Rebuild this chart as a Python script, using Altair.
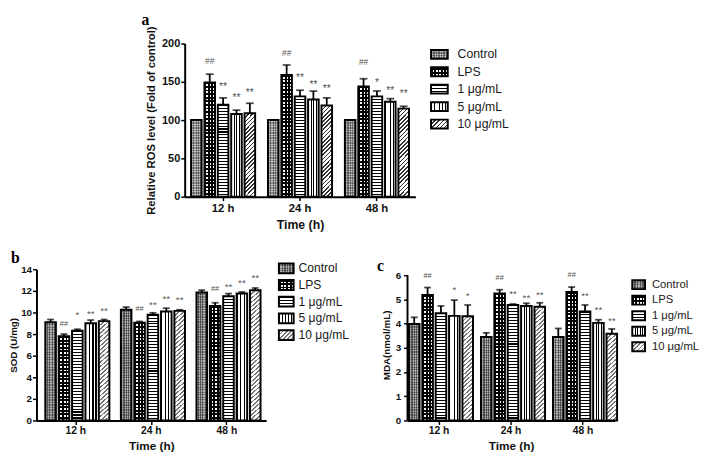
import altair as alt
import pandas as pd

FONT = "Liberation Sans"
SERIF = "Liberation Serif"

cats = ["Control", "LPS", "1 μg/mL", "5 μg/mL", "10 μg/mL"]
times = ["12 h", "24 h", "48 h"]

# (a) Relative ROS level (Fold of control)
ros_12 = [100, 149, 120, 108, 109]
ros_24 = [100, 159, 131, 127, 119]
ros_48 = [100, 144, 131, 124, 115]
ros_err_12 = [0, 11, 9, 5, 13]
ros_err_24 = [0, 13, 8, 11, 10]
ros_err_48 = [0, 10, 7, 4, 3]
ros_sig_12 = ["", "##", "**", "**", "**"]
ros_sig_24 = ["", "##", "**", "**", "**"]
ros_sig_48 = ["", "##", "*", "**", "**"]
ros_sig_pos_12 = [0, 177, 147, 132, 139]
ros_sig_pos_24 = [0, 187, 159, 150, 144]
ros_sig_pos_48 = [0, 176, 152, 142, 137]

# (b) SOD (U/mg)
sod_12 = [9.1, 7.8, 8.3, 9.0, 9.2]
sod_24 = [10.25, 9.05, 9.8, 10.1, 10.15]
sod_48 = [11.85, 10.6, 11.5, 11.75, 12.05]
sod_err_12 = [0.25, 0.2, 0.15, 0.3, 0.15]
sod_err_24 = [0.25, 0.12, 0.17, 0.3, 0.1]
sod_err_48 = [0.22, 0.3, 0.25, 0.15, 0.22]
sod_sig_12 = ["", "##", "*", "**", "**"]
sod_sig_24 = ["", "##", "**", "**", "**"]
sod_sig_48 = ["", "##", "**", "**", "**"]
sod_sig_pos_12 = [0, 8.9, 10.05, 10.1, 10.35]
sod_sig_pos_24 = [0, 10.3, 10.93, 11.48, 11.39]
sod_sig_pos_48 = [0, 12.18, 12.63, 13.0, 13.48]

# (c) MDA (nmol/mL)
mda_12 = [3.98, 5.18, 4.43, 4.32, 4.3]
mda_24 = [3.45, 5.24, 4.77, 4.73, 4.7]
mda_48 = [3.45, 5.31, 4.5, 4.03, 3.58]
mda_err_12 = [0.28, 0.31, 0.3, 0.65, 0.47]
mda_err_24 = [0.17, 0.16, 0.04, 0.11, 0.16]
mda_err_48 = [0.35, 0.2, 0.27, 0.13, 0.2]
mda_sig_12 = ["", "##", "", "*", "*"]
mda_sig_24 = ["", "##", "**", "**", "**"]
mda_sig_48 = ["", "##", "**", "**", "**"]
mda_sig_pos_12 = [0, 5.95, 0, 5.49, 5.24]
mda_sig_pos_24 = [0, 5.88, 5.35, 5.18, 5.27]
mda_sig_pos_48 = [0, 5.99, 5.24, 4.67, 4.23]

CLEAR = "rgba(255,255,255,0)"


def _stops(c1, c2, dt, frac, tmax=1.0):
    stops = []
    i = 0
    while i * dt < tmax and i < 300:
        a = min(i * dt, 1.0)
        b = min((i + frac) * dt, 1.0)
        c = min((i + 1) * dt, 1.0)
        stops += [{"offset": a, "color": c1}, {"offset": b, "color": c1},
                  {"offset": b, "color": c2}, {"offset": c, "color": c2}]
        i += 1
    return stops


def lines(c1, c2, extent, period, frac, vertical):
    n = max(1, round(extent / period))
    return {"gradient": "linear", "x1": 0, "y1": 0,
            "x2": 1 if vertical else 0, "y2": 0 if vertical else 1,
            "stops": _stops(c1, c2, 1.0 / n, frac)}


def diagonal(c1, c2, w, h, period, frac):
    r = h / w
    dt = period * 2 ** 0.5 / (w * (1 + r * r))
    tmax = min(1.0, (w + h) / (w * (1 + r * r)) + dt)
    return {"gradient": "linear", "x1": 0, "y1": 0, "x2": 1, "y2": r,
            "stops": _stops(c1, c2, dt, frac, tmax)}


def fills(cat, w, h, hatch, ctrl):
    if cat == "Control":
        return [lines(ctrl[0], ctrl[1], w, 1.7, 0.5, True),
                lines("rgba(40,40,40,0.4)", CLEAR, h, 1.7, 0.5, False)]
    if cat == "LPS":
        return ["#ffffff",
                lines("#000000", CLEAR, h, 3.6, 0.5, False),
                lines("#000000", CLEAR, w, 3.6, 0.5, True)]
    if cat == "1 μg/mL":
        return [lines("#000000", "#ffffff", h, 3.0, 0.35, False)]
    if cat == "5 μg/mL":
        return [lines("#000000", "#ffffff", w, 2.8, 0.3, True)]
    return [diagonal(hatch, "#ffffff", w, h, 3.0, 0.4)]


def build_df(means, errs, sigs, sig_pos):
    rows = []
    for ti, t in enumerate(times):
        for ci, c in enumerate(cats):
            m = means[ti][ci]
            e = errs[ti][ci]
            rows.append({"time": t, "cat": c, "key": f"{ti}_{ci}", "mean": m, "err": e,
                         "top": m + e, "sig": sigs[ti][ci], "sig_y": sig_pos[ti][ci]})
    return pd.DataFrame(rows)


def panel(df, p):
    W, H = p["w"], p["h"]
    smax = p["ymax"] * H / p["ph"]      # scale top (plot may be taller than the drawn axis)
    custom_domain = H != p["ph"]
    xenc = alt.X("time:N", sort=times,
                 scale=alt.Scale(paddingInner=p["pi"], paddingOuter=p["po"]),
                 axis=alt.Axis(title="Time (h)", labelAngle=0, labelFont=FONT,
                               labelFontSize=p["xlab"], labelFontWeight="bold", labelColor="#111",
                               titleFont=FONT, titleFontSize=p["xtitle"], titleFontWeight="bold",
                               titleColor="#111", domainColor="#000", domainWidth=2,
                               tickColor="#000", tickWidth=1.5, tickSize=4,
                               labelPadding=p["xlabpad"], titlePadding=p["xtitlepad"]))
    xo = alt.XOffset("cat:N", sort=cats, scale=alt.Scale(domain=cats, paddingInner=p["pio"]))
    yscale = alt.Scale(domain=[0, smax], nice=False, zero=True)
    yaxis = alt.Axis(values=p["yticks"], title=p["ytitle"], grid=False, labelFont=FONT,
                     labelFontSize=p["ylab"], labelFontWeight="bold", labelColor="#111",
                     titleFont=FONT, titleFontSize=p["ytitle_fs"], titleFontWeight="bold",
                     titleColor="#111", domain=not custom_domain, domainColor="#000",
                     domainWidth=2, tickColor="#000",
                     tickWidth=1.5, tickSize=4, labelPadding=p["ylabpad"],
                     titlePadding=p["ytitlepad"])

    def Y(field):
        return alt.Y(f"{field}:Q", scale=yscale, axis=yaxis)

    base = alt.Chart(df)
    layers = []
    for _, r in df.iterrows():
        h = r["mean"] / smax * H
        for f in fills(r["cat"], p["bw"], h, p["hatch"], p["ctrl"]):
            layers.append(base.transform_filter(alt.datum.key == r["key"])
                          .mark_bar(fill=f, strokeWidth=0)
                          .encode(x=xenc, xOffset=xo, y=Y("mean")))
    layers.append(base.mark_bar(fillOpacity=0, stroke="#000", strokeWidth=2)
                  .encode(x=xenc, xOffset=xo, y=Y("mean")))
    eb = base.transform_filter(alt.datum.err > 0)
    layers.append(eb.mark_rule(color="#000", strokeWidth=1.8)
                  .encode(x=xenc, xOffset=xo, y=Y("mean"), y2="top:Q"))
    layers.append(eb.mark_tick(color="#000", thickness=1.8, size=p["cap"])
                  .encode(x=xenc, xOffset=xo, y=Y("top")))
    hashes = base.transform_filter(alt.datum.sig == "##")
    stars = base.transform_filter((alt.datum.sig != "##") & (alt.datum.sig != ""))
    layers.append(hashes.mark_text(font=FONT, fontSize=p["hashfs"], color="#555", baseline="middle")
                  .encode(x=xenc, xOffset=xo, y=Y("sig_y"), text="sig:N"))
    layers.append(stars.mark_text(font=FONT, fontSize=p["starfs"], color="#555",
                                  baseline="middle", dy=round(p["starfs"] * 0.27, 1))
                  .encode(x=xenc, xOffset=xo, y=Y("sig_y"), text="sig:N"))
    if custom_domain:
        layers.append(alt.Chart(pd.DataFrame({"v": [0]})).mark_rule(color="#000", strokeWidth=2)
                      .encode(x=alt.value(0), y=alt.Y(datum=0, scale=yscale, axis=yaxis),
                              y2=alt.Y2(datum=p["ymax"])))
    layers.append(alt.Chart(pd.DataFrame({"v": [0]}))
                  .mark_text(text=p["label"], font=SERIF, fontWeight="bold", fontSize=16,
                             align="left", baseline="alphabetic", color="#000")
                  .encode(x=alt.value(p["lx"]), y=alt.value(p["ly"])))
    return alt.layer(*layers).properties(width=W, height=H)


def legend(p):
    H, first, step = p["h"], p["first"], p["step"]
    ldf = pd.DataFrame({"cat": cats, "idx": list(range(len(cats)))})
    half = p["sh"] / 2 / step
    ldf["lo"] = ldf["idx"] - half
    ldf["hi"] = ldf["idx"] + half
    ys = alt.Scale(domain=[-first / step, (H - first) / step], reverse=True, nice=False, zero=False)
    base = alt.Chart(ldf)
    layers = []
    for c in cats:
        for f in fills(c, p["sw"], p["sh"], p["hatch"], p["ctrl"]):
            layers.append(base.transform_filter(alt.datum.cat == c)
                          .mark_rect(fill=f, strokeWidth=0)
                          .encode(x=alt.value(p["sx"]), x2=alt.value(p["sx"] + p["sw"]),
                                  y=alt.Y("lo:Q", scale=ys, axis=None), y2="hi:Q"))
    layers.append(base.mark_rect(fillOpacity=0, stroke="#000", strokeWidth=2)
                  .encode(x=alt.value(p["sx"]), x2=alt.value(p["sx"] + p["sw"]),
                          y=alt.Y("lo:Q", scale=ys, axis=None), y2="hi:Q"))
    layers.append(base.mark_text(align="left", baseline="middle", font=FONT, fontSize=p["fs"],
                                 color="#1a1a1a")
                  .encode(x=alt.value(p["tx"]), y=alt.Y("idx:Q", scale=ys, axis=None),
                          text="cat:N"))
    return alt.layer(*layers).properties(width=p["w"], height=H)


def spacer(w, h):
    return (alt.Chart(pd.DataFrame({"v": [0]})).mark_point(opacity=0, size=1)
            .encode(x=alt.value(0), y=alt.value(0)).properties(width=w, height=h))


df_a = build_df([ros_12, ros_24, ros_48], [ros_err_12, ros_err_24, ros_err_48],
                [ros_sig_12, ros_sig_24, ros_sig_48], [ros_sig_pos_12, ros_sig_pos_24, ros_sig_pos_48])
df_b = build_df([sod_12, sod_24, sod_48], [sod_err_12, sod_err_24, sod_err_48],
                [sod_sig_12, sod_sig_24, sod_sig_48], [sod_sig_pos_12, sod_sig_pos_24, sod_sig_pos_48])
df_c = build_df([mda_12, mda_24, mda_48], [mda_err_12, mda_err_24, mda_err_48],
                [mda_sig_12, mda_sig_24, mda_sig_48], [mda_sig_pos_12, mda_sig_pos_24, mda_sig_pos_48])

CTRL_A = ("#7c7c7c", "#cfcfcf")
CTRL_BC = ("#5e5e5e", "#b8b8b8")

pa = dict(w=235, h=156, ph=156, ymax=200, yticks=[0, 50, 100, 150, 200],
          ytitle="Relative ROS level (Fold of control)", pi=0.167, po=0.083, pio=0.21, bw=11,
          hatch="#333333", ctrl=CTRL_A, cap=8, hashfs=8.5, starfs=10.5, ylab=11.2, ytitle_fs=11.5,
          ylabpad=1, ytitlepad=5, xlab=11.5, xtitle=12.5, xlabpad=2, xtitlepad=5,
          label="a", lx=-44, ly=-19)
pb = dict(w=234, h=154, ph=154, ymax=14, yticks=list(range(0, 15, 2)), ytitle="SOD (U/mg)",
          pi=0.195, po=0.117, pio=0.26, bw=9.5, hatch="#777777", ctrl=CTRL_BC, cap=7, hashfs=7.5,
          starfs=10, ylab=10, ytitle_fs=10, ylabpad=1, ytitlepad=2, xlab=10.5, xtitle=12,
          xlabpad=1, xtitlepad=5, label="b", lx=-26, ly=-6)
pc = dict(w=211, h=154, ph=148, ymax=6, yticks=list(range(0, 7)), ytitle="MDA(nmol/mL)",
          pi=0.165, po=0.02, pio=0.23, bw=9.8, hatch="#777777", ctrl=CTRL_BC, cap=7, hashfs=7.5,
          starfs=10, ylab=10, ytitle_fs=10, ylabpad=3, ytitlepad=4, xlab=10.5, xtitle=12,
          xlabpad=1, xtitlepad=5, label="c", lx=-31, ly=1.5)

la = dict(w=130, h=156, first=11, step=17.75, sx=16, sw=17, sh=9, tx=43, fs=12.5,
          hatch="#333333", ctrl=CTRL_A)
lb = dict(w=144, h=154, first=-1, step=17, sx=13, sw=15, sh=10, tx=33, fs=12.3,
          hatch="#777777", ctrl=CTRL_BC)
lc = dict(w=60, h=154, first=15.7, step=15.8, sx=18, sw=13, sh=9, tx=38, fs=11.5,
          hatch="#777777", ctrl=CTRL_BC)

top = alt.hconcat(spacer(151, 156), panel(df_a, pa), legend(la), spacing=0, bounds="flush")
bottom = alt.hconcat(panel(df_b, pb), legend(lb), panel(df_c, pc), legend(lc),
                     spacing=0, bounds="flush")

chart = (alt.vconcat(top, bottom, spacing=20)
         .configure_view(stroke=None)
         .properties(padding=0, background="white"))

chart.save("out.html", embed_options={"renderer": "svg", "actions": False})
